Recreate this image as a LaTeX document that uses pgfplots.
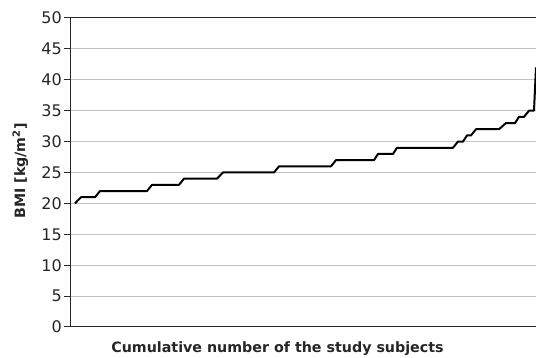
\documentclass[border=0pt]{standalone}
\usepackage{fontspec}
\setmainfont{DejaVu Sans}
\usepackage{pgfplots}
\pgfplotsset{compat=1.18}
\definecolor{gridgray}{RGB}{195,195,195}
\definecolor{axisdark}{RGB}{40,40,40}
\begin{document}
\begin{tikzpicture}[x=1pt,y=1pt]
\path[use as bounding box] (0,0) rectangle (536,358);
\begin{axis}[
  at={(71pt,31pt)}, anchor=south west,
  scale only axis, width=465pt, height=309pt,
  xmin=0, xmax=465, ymin=0, ymax=50,
  axis x line*=bottom, axis y line*=left,
  axis line style={axisdark, line width=1pt},
  xtick=\empty,
  ytick={0,5,...,45},
  extra y ticks={50},
  extra y tick style={grid style={axisdark, line width=1pt}},
  ymajorgrids,
  grid style={gridgray, line width=1pt},
  tick align=outside, major tick length=7pt,
  tick style={axisdark, line width=1pt},
  /pgf/number format/assume math mode=true,
  yticklabel style={font=\fontsize{16}{16}\selectfont, text=black!85, inner sep=2pt},
  clip=false,
]
\addplot[black, line width=2pt, line join=round] coordinates {
(4,20) (10,21) (24,21) (29,22) (76,22) (81,23) (108,23) (113,24) (146,24) (152,25)
(203,25) (208,26) (260,26) (265,27) (303,27) (307,28) (322,28) (326,29) (382,29)
(387,30) (392,30) (396,31) (400,31) (405,32) (428,32) (435,33) (444,33) (448,34)
(453,34) (458,35) (463,35) (465,42)
};
\end{axis}
\node[font=\bfseries\fontsize{14.25}{14.25}\selectfont, text=black!85, anchor=base] at (277.5,5) {Cumulative number of the study subjects};
\node[font=\bfseries\fontsize{14.25}{14.25}\selectfont, text=black!85, rotate=90, anchor=base] at (25,187) {BMI [kg/m\textsuperscript{2}]};
\end{tikzpicture}
\end{document}
